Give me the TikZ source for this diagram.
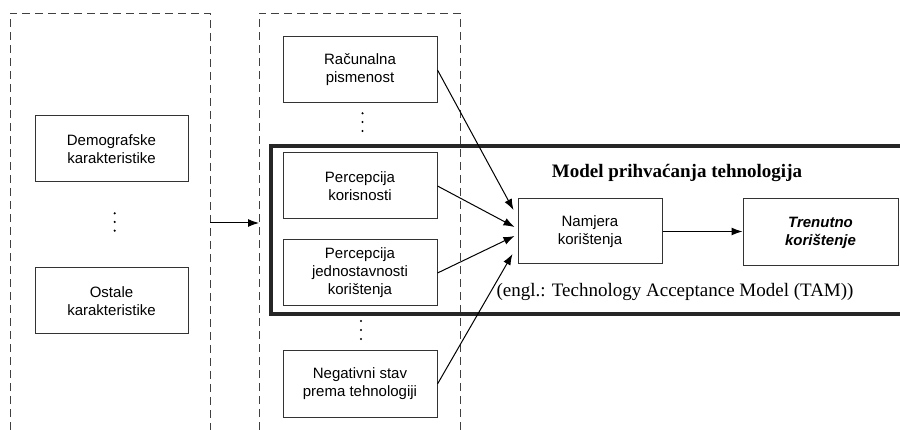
\documentclass[tikz,border=0pt]{standalone}
\usepackage{fontspec}
\setmainfont{Liberation Serif}
\setsansfont{Liberation Sans}
\usetikzlibrary{arrows.meta}
\begin{document}
\begin{tikzpicture}
[x=1pt,y=-1pt,
box/.style={draw=black!80,line width=1pt,minimum width=154pt,minimum height=66pt,inner sep=2pt,align=center,font=\sffamily\fontsize{15}{18}\selectfont},
group/.style={draw=black!75,line width=0.9pt,dash pattern=on 8pt off 5pt},
arr/.style={line width=1pt,-{Latex[length=11pt,width=8pt]}}]
\useasboundingbox (0,0) rectangle (900,430);
\draw [group] (10,430) -- (10,13) -- (210,13) -- (210,430);
\draw [group] (259,430) -- (259,13) -- (460,13) -- (460,430);
\draw [line width=3.6pt,draw=black!85] (900,146) -- (271,146) -- (271,314) -- (900,314);
\node [box,minimum width=153pt] (demo) at (111.5,149) {Demografske\\karakteristike};
\node [box,minimum width=153pt] (ostale) at (111.5,301) {Ostale\\karakteristike};
\node [box] (racun) at (360,70) {Računalna\\pismenost};
\node [box] (korisn) at (360,186) {Percepcija\\korisnosti};
\node [box] (jednost) at (360,273) {Percepcija\\jednostavnosti\\korištenja};
\node [box] (negat) at (360,384) {Negativni stav\\prema tehnologiji};
\node [box,minimum width=144pt,minimum height=65pt] (namjera) at (590,231.5) {Namjera\\korištenja};
\node [box,minimum width=155pt,minimum height=67pt,font=\sffamily\bfseries\itshape\fontsize{15}{18}\selectfont] (trenutno) at (820.5,232.5) {Trenutno\\korištenje};
\node [font=\bfseries\fontsize{19}{22}\selectfont] (naslov) at (677,173) {Model prihvaćanja tehnologija};
\node [font=\fontsize{19}{22}\selectfont] (engl) at (675,292) {(engl.: Technology Acceptance Model (TAM))};
\foreach \y in {213.3,222,230.7} \fill (114.7,\y) circle (1.2pt);
\foreach \y in {113.3,122,131} \fill (362.5,\y) circle (1.2pt);
\foreach \y in {321,330,339} \fill (361,\y) circle (1.2pt);
\coordinate (izlaz) at (210,223);
\coordinate (ulaz) at (259,223);
\draw [arr] (izlaz) -- (ulaz);
\draw [arr] (racun.east) -- ([xshift=-4pt,yshift=21.5pt]namjera.west);
\draw [arr] (korisn.east) -- ([xshift=-3pt,yshift=4.5pt]namjera.west);
\draw [arr] (jednost.east) -- ([xshift=-3pt,yshift=-4.5pt]namjera.west);
\draw [arr] (negat.east) -- ([xshift=-5pt,yshift=-22.5pt]namjera.west);
\draw [arr] (namjera.east) -- (namjera.east -| trenutno.west);
\end{tikzpicture}
\end{document}
